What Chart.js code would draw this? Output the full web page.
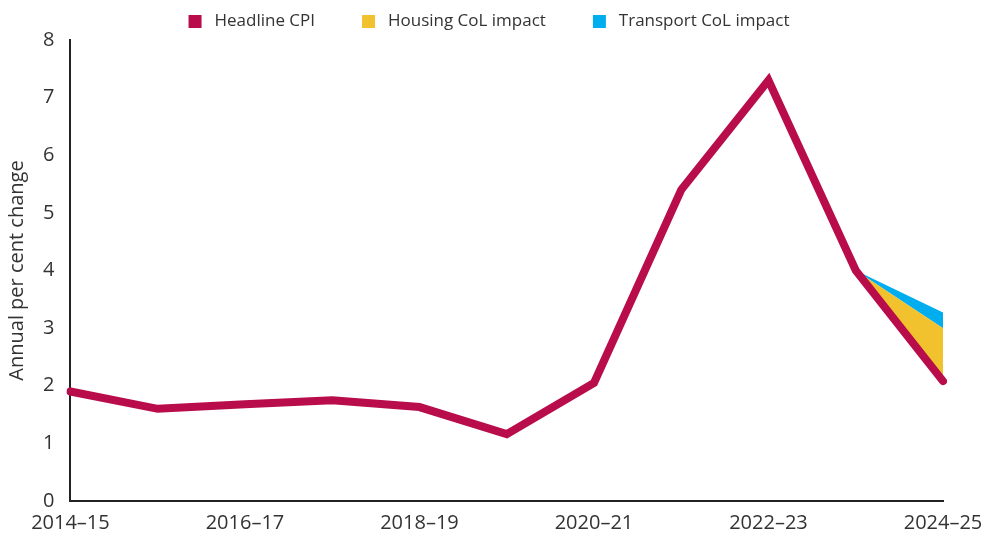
<!DOCTYPE html>
<html>
<head>
<meta charset="utf-8">
<script src="https://cdn.jsdelivr.net/npm/chart.js@4/dist/chart.umd.min.js"></script>
<style>
    html, body { margin: 0; padding: 0; background: #fff; }
    #wrap { width: 991px; height: 534px; }
</style>
</head>
<body>
<div id="wrap"><canvas id="grafico"></canvas></div>
<script>
const anos = ['2014–15', '2015–16', '2016–17', '2017–18', '2018–19', '2019–20',
    '2020–21', '2021–22', '2022–23', '2023–24', '2024–25'];
const cpi = [1.9, 1.6, 1.68, 1.75, 1.63, 1.16, 2.05, 5.4, 7.3, 4.0, 2.08];
const habitacao = [null, null, null, null, null, null, null, null, null, 4.0, 3.0];
const transporte = [null, null, null, null, null, null, null, null, null, 4.0, 3.27];

const corTexto = '#333';
const fonte = "'Open Sans', sans-serif";

new Chart(document.getElementById('grafico').getContext('2d'), {
    type: 'line',
    data: {
        labels: anos,
        datasets: [
            {
                label: 'Headline CPI',
                data: cpi,
                borderColor: '#b80c4b',
                backgroundColor: '#b80c4b',
                borderWidth: 8,
                borderCapStyle: 'round',
                pointRadius: 0,
                tension: 0,
                fill: false
            },
            {
                label: 'Housing CoL impact',
                data: habitacao,
                borderColor: '#f2c12e',
                backgroundColor: '#f2c12e',
                borderWidth: 0,
                pointRadius: 0,
                fill: 0
            },
            {
                label: 'Transport CoL impact',
                data: transporte,
                borderColor: '#00aeef',
                backgroundColor: '#00aeef',
                borderWidth: 0,
                pointRadius: 0,
                fill: 1
            }
        ]
    },
    options: {
        responsive: true,
        maintainAspectRatio: false,
        animation: false,
        // negative padding pulls the legend up and the x labels down
        layout: { padding: { left: 3, right: 16, top: -34, bottom: -11 } },
        plugins: {
            tooltip: { enabled: false },
            legend: {
                position: 'top',
                labels: {
                    boxWidth: 13,
                    boxHeight: 13,
                    padding: 47,
                    color: corTexto,
                    font: { family: fonte, size: 17 },
                    generateLabels: function(chart) {
                        return Chart.defaults.plugins.legend.labels.generateLabels(chart).map(item => {
                            item.lineWidth = 0;
                            item.strokeStyle = item.fillStyle;
                            item.text = ' ' + item.text;
                            return item;
                        });
                    }
                }
            }
        },
        scales: {
            x: {
                offset: false,
                grid: { display: false, drawTicks: false },
                border: { display: true, color: '#222', width: 2 },
                afterFit: function(escala) {
                    escala.paddingRight = 48;
                },
                ticks: {
                    autoSkip: false,
                    maxRotation: 0,
                    padding: 12,
                    color: corTexto,
                    font: { family: fonte, size: 20, lineHeight: 1 },
                    callback: function(valor, indice) {
                        return indice % 2 === 0 ? anos[indice] : '';
                    }
                }
            },
            y: {
                min: 0,
                max: 8,
                grid: { display: false, drawTicks: false },
                border: { display: true, color: '#222', width: 2 },
                ticks: {
                    stepSize: 1,
                    padding: 16,
                    color: corTexto,
                    font: { family: fonte, size: 20 }
                },
                title: {
                    display: true,
                    text: 'Annual per cent change',
                    color: corTexto,
                    font: { family: fonte, size: 20, lineHeight: 1 },
                    padding: { top: 4, bottom: 0 }
                }
            }
        }
    }
});
</script>
</body>
</html>
